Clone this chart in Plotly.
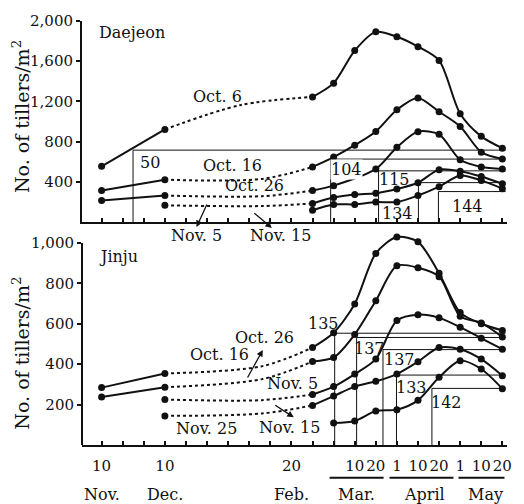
import plotly.graph_objects as go

# ---------------- data ----------------
# x positions in axis units: one unit = one 10-day tick
# 0 = Nov 10, 3 = Dec 10, 9 = Feb 20, 12 = Mar 10, 13 = Mar 20, 14 = Apr 1,
# 15 = Apr 10, 16 = Apr 20, 17 = May 1, 18 = May 10, 19 = May 20
tick_pos = list(range(20))
tick_text = ["10", "", "", "10", "", "", "", "", "", "20", "", "", "10", "20", "1", "10", "20", "1", "10", "20"]
month_names = ["Nov.", "Dec.", "Feb.", "Mar.", "April", "May"]
month_pos = [0, 3, 9, 12.1, 15.3, 18.2]

fall_x = [0, 3]
dec_x = [3]
spring_x = [10, 11, 12, 13, 14, 15, 16, 17, 18, 19]
spring_x_late = [11, 12, 13, 14, 15, 16, 17, 18, 19]
spring_x_gap12 = [10, 11, 13, 14, 15, 16, 17, 18, 19]

# Daejeon (tillers / m2)
dj_oct6_fall = [555, 922]
dj_oct6_dot_x = [6.6]
dj_oct6_dot = [1165]
dj_oct6_spring = [1245, 1382, 1706, 1892, 1843, 1745, 1608, 1078, 853, 735]

dj_oct16_fall = [314, 422]
dj_oct16_dot_x = [7.6]
dj_oct16_dot = [430]
dj_oct16_spring = [549, 647, 765, 902, 1118, 1235, 1098, 951, 696, 627]

dj_oct26_fall = [216, 265]
dj_oct26_dot_x = [7.6]
dj_oct26_dot = [258]
dj_oct26_spring = [314, 363, 529, 745, 900, 873, 620, 549, 529]

dj_nov5_fall = [167]
dj_nov5_dot_x = [7.6]
dj_nov5_dot = [160]
dj_nov5_spring = [186, 245, 275, 288, 330, 392, 522, 507, 454, 382]

dj_nov15_spring = [118, 176, 176, 200, 200, 265, 353, 464, 415, 333]

# Jinju (tillers / m2)
jj_oct16_fall = [284, 354]
jj_oct16_dot_x = [7.6]
jj_oct16_dot = [390]
jj_oct16_spring = [482, 555, 698, 948, 1029, 1005, 850, 655, 600, 567]

jj_oct26_fall = [237, 286]
jj_oct26_dot_x = [7.6]
jj_oct26_dot = [326]
jj_oct26_spring = [413, 433, 547, 714, 887, 877, 833, 637, 604, 534]

jj_nov5_fall = [225]
jj_nov5_dot_x = [7.6]
jj_nov5_dot = [222]
jj_nov5_spring = [250, 289, 351, 425, 616, 645, 629, 583, 528, 474]

jj_nov15_fall = [144]
jj_nov15_dot_x = [7.6]
jj_nov15_dot = [156]
jj_nov15_spring = [196, 242, 289, 315, 351, 412, 482, 474, 425, 343]

jj_nov25_spring = [109, 119, 168, 175, 221, 335, 417, 376, 278]

# reference boxes: day counts, x position of the vertical, level of the horizontal
dj_box_days = ["50", "104", "115", "134", "144"]
dj_box_x = [1.49, 10.86, 13.13, 15.02, 15.97]
dj_box_y = [716, 627, 510, 393, 304]
dj_box_lab_x = [2.29, 11.6, 13.89, 14.03, 17.34]
dj_box_lab_y = [598, 520, 422, 88, 157]

jj_box_days = ["135", "137", "137", "133", "142"]
jj_box_x = [11.05, 12.09, 13.34, 13.98, 15.66]
jj_box_y = [553, 532, 472, 346, 280]
jj_box_lab_x = [10.53, 12.7, 14.12, 14.69, 16.35]
jj_box_lab_y = [600, 478, 424, 283, 210]

box_right = 19.15

# ---------------- figure ----------------
FONT = "DejaVu Serif"
BLACK = "#111111"
fig = go.Figure()


def add_series(xa, ya, fx, fy, dx, dy, sx, sy):
    if fx:
        fig.add_trace(go.Scatter(
            x=fx, y=fy, xaxis=xa, yaxis=ya, mode="lines+markers", cliponaxis=False,
            line=dict(color=BLACK, width=2),
            marker=dict(color=BLACK, size=7), showlegend=False, hoverinfo="skip"))
        fig.add_trace(go.Scatter(
            x=[fx[-1]] + dx + [sx[0]], y=[fy[-1]] + dy + [sy[0]],
            xaxis=xa, yaxis=ya, mode="lines", cliponaxis=False,
            line=dict(color=BLACK, width=2, dash="dot", shape="spline", smoothing=0.9),
            showlegend=False, hoverinfo="skip"))
    fig.add_trace(go.Scatter(
        x=sx, y=sy, xaxis=xa, yaxis=ya, mode="lines+markers", cliponaxis=False,
        line=dict(color=BLACK, width=2, shape="spline", smoothing=0.8),
        marker=dict(color=BLACK, size=7), showlegend=False, hoverinfo="skip"))


add_series("x", "y", fall_x, dj_oct6_fall, dj_oct6_dot_x, dj_oct6_dot, spring_x, dj_oct6_spring)
add_series("x", "y", fall_x, dj_oct16_fall, dj_oct16_dot_x, dj_oct16_dot, spring_x, dj_oct16_spring)
add_series("x", "y", fall_x, dj_oct26_fall, dj_oct26_dot_x, dj_oct26_dot, spring_x_gap12, dj_oct26_spring)
add_series("x", "y", dec_x, dj_nov5_fall, dj_nov5_dot_x, dj_nov5_dot, spring_x, dj_nov5_spring)
add_series("x", "y", [], [], [], [], spring_x, dj_nov15_spring)

add_series("x2", "y2", fall_x, jj_oct16_fall, jj_oct16_dot_x, jj_oct16_dot, spring_x, jj_oct16_spring)
add_series("x2", "y2", fall_x, jj_oct26_fall, jj_oct26_dot_x, jj_oct26_dot, spring_x, jj_oct26_spring)
add_series("x2", "y2", dec_x, jj_nov5_fall, jj_nov5_dot_x, jj_nov5_dot, spring_x, jj_nov5_spring)
add_series("x2", "y2", dec_x, jj_nov15_fall, jj_nov15_dot_x, jj_nov15_dot, spring_x, jj_nov15_spring)
add_series("x2", "y2", [], [], [], [], spring_x_late, jj_nov25_spring)

shapes = []
annotations = []


def add_boxes(xr, yr, days, bx, by, lx, ly, white=()):
    for i in range(len(days)):
        shapes.append(dict(type="line", xref=xr, yref=yr, x0=bx[i], x1=bx[i], y0=0, y1=by[i],
                           line=dict(color=BLACK, width=1)))
        shapes.append(dict(type="line", xref=xr, yref=yr, x0=bx[i], x1=box_right, y0=by[i], y1=by[i],
                           line=dict(color=BLACK, width=1)))
        annotations.append(dict(xref=xr, yref=yr, x=lx[i], y=ly[i], text=days[i], showarrow=False,
                                font=dict(family=FONT, size=16, color=BLACK),
                                bgcolor="white" if i in white else None, borderpad=0))


add_boxes("x", "y", dj_box_days, dj_box_x, dj_box_y, dj_box_lab_x, dj_box_lab_y, white=(1,))
add_boxes("x2", "y2", jj_box_days, jj_box_x, jj_box_y, jj_box_lab_x, jj_box_lab_y)

# Jinju y axis line only up to 1,000 (the range above leaves room for the peak)
shapes.append(dict(type="line", xref="paper", yref="y2", x0=0, x1=0, y0=0, y1=1000,
                   line=dict(color=BLACK, width=2)))


def label(xr, yr, x, y, text, size=16):
    annotations.append(dict(xref=xr, yref=yr, x=x, y=y, text=text, showarrow=False,
                            font=dict(family=FONT, size=size, color=BLACK)))


def arrow(xr, yr, hx, hy, dxp, dyp):
    # head at (hx, hy); tail offset in pixels
    annotations.append(dict(xref=xr, yref=yr, x=hx, y=hy, ax=dxp, ay=dyp,
                            text="", showarrow=True, arrowhead=2, arrowsize=1,
                            arrowwidth=1.3, arrowcolor=BLACK))


# Daejeon series labels
label("x", "y", 5.51, 1245, "Oct. 6")
label("x", "y", 6.22, 559, "Oct. 16")
label("x", "y", 7.26, 363, "Oct. 26")
label("x", "paper", 4.51, 0.493, "Nov. 5")
label("x", "paper", 8.5, 0.493, "Nov. 15")
arrow("x", "paper", 4.5, 0.514, 11, -24)
arrow("x", "paper", 8.07, 0.512, -19, -16)

# Jinju series labels
label("x2", "y2", 5.6, 449, "Oct. 16")
label("x2", "y2", 7.7, 532, "Oct. 26")
label("x2", "y2", 9.06, 302, "Nov. 5")
label("x2", "y2", 8.92, 88, "Nov. 15")
label("x2", "y2", 4.99, 83, "Nov. 25")
arrow("x2", "y2", 7.64, 470, -16, 29)
arrow("x2", "y2", 9.11, 137, -20, -13)

# panel titles
annotations.append(dict(xref="paper", yref="paper", x=0.035, y=0.974, xanchor="left", yanchor="middle",
                        text="Daejeon", showarrow=False, font=dict(family=FONT, size=16, color=BLACK)))
annotations.append(dict(xref="paper", yref="paper", x=0.035, y=0.444, xanchor="left", yanchor="middle",
                        text="Jinju", showarrow=False, font=dict(family=FONT, size=16, color=BLACK)))

# y axis titles
for yy in (0.774, 0.216):
    annotations.append(dict(xref="paper", yref="paper", x=-0.143, y=yy, xanchor="center", yanchor="middle",
                            text="No. of tillers/m<sup>2</sup>", textangle=-90, showarrow=False,
                            font=dict(family=FONT, size=19, color=BLACK)))

# month labels
for name, pos in zip(month_names, month_pos):
    annotations.append(dict(xref="x2", yref="paper", x=pos, y=-0.116, text=name, showarrow=False,
                            xanchor="center", yanchor="middle",
                            font=dict(family=FONT, size=16, color=BLACK)))
for x0, x1 in ((10.81, 13.37), (13.65, 16.68), (16.92, 19.1)):
    shapes.append(dict(type="line", xref="x2", yref="paper", x0=x0, x1=x1, y0=-0.077, y1=-0.077,
                       line=dict(color=BLACK, width=2)))

xcommon = dict(range=[-0.93, 19.22], showline=True, linecolor=BLACK, linewidth=2,
               ticks="inside", ticklen=4, tickwidth=1.5, tickcolor=BLACK,
               tickvals=tick_pos, showgrid=False, zeroline=False)

fig.update_layout(
    width=524, height=504,
    margin=dict(l=82, r=16, t=15, b=59),
    paper_bgcolor="white", plot_bgcolor="white",
    showlegend=False,
    xaxis=dict(**xcommon, domain=[0, 1], anchor="y", showticklabels=False),
    xaxis2=dict(**xcommon, domain=[0, 1], anchor="y2", ticktext=tick_text, showticklabels=True,
                tickangle=0, tickfont=dict(family=FONT, size=15, color=BLACK), ticklabelstandoff=6),
    yaxis=dict(domain=[0.5256, 1], range=[0, 2000], anchor="x", showline=True, linecolor=BLACK,
               linewidth=2, ticks="outside", ticklen=4, tickwidth=1.5, tickcolor=BLACK,
               tickvals=[400, 800, 1200, 1600, 2000],
               ticktext=["400", "800", "1,200", "1,600", "2,000"],
               tickfont=dict(family=FONT, size=15, color=BLACK), showgrid=False, zeroline=False),
    yaxis2=dict(domain=[0, 0.5053], range=[0, 1060], anchor="x2", showline=False,
                ticks="outside", ticklen=4, tickwidth=1.5, tickcolor=BLACK,
                tickvals=[200, 400, 600, 800, 1000],
                ticktext=["200", "400", "600", "800", "1,000"],
                tickfont=dict(family=FONT, size=15, color=BLACK), showgrid=False, zeroline=False),
    shapes=shapes,
    annotations=annotations,
)

fig.write_html("out.html")
